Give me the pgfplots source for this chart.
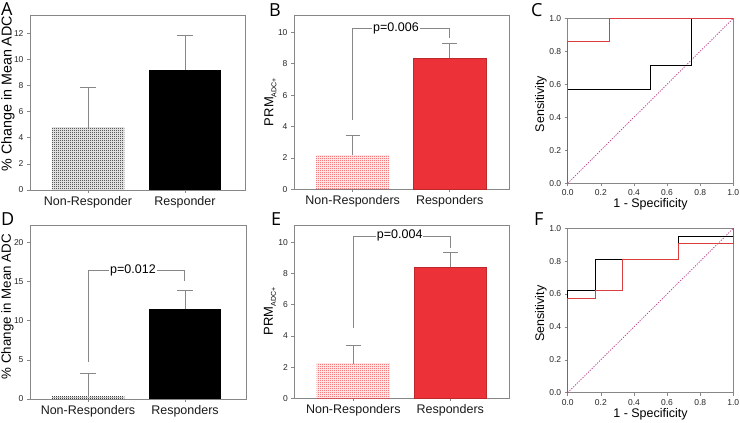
\documentclass[border=0pt]{standalone}
\usepackage{fontspec}
\setmainfont{Liberation Sans}
\newfontfamily\letterfont{Open Sans}
\usepackage{pgfplots}
\pgfplotsset{compat=1.18}
\usetikzlibrary{patterns}
\definecolor{axgray}{RGB}{135,135,135}
\definecolor{bred}{RGB}{236,50,56}
\definecolor{rocred}{RGB}{218,62,62}
\definecolor{diag}{RGB}{185,60,140}
\pgfdeclarepatternformonly{finecheck}{\pgfpointorigin}{\pgfpoint{2pt}{2pt}}{\pgfpoint{2pt}{2pt}}{%
  \pgfpathrectangle{\pgfpointorigin}{\pgfpoint{1pt}{1pt}}%
  \pgfpathrectangle{\pgfpoint{1pt}{1pt}}{\pgfpoint{1pt}{1pt}}%
  \pgfusepath{fill}}
\pgfplotsset{
  base/.style={scale only axis, anchor=north west,
    axis line style={axgray, line width=0.7pt},
    tick style={axgray, line width=0.6pt}, major tick length=3pt,
    tick align=outside, xtick pos=bottom, ytick pos=left,
    /pgf/number format/assume math mode=true,
    yticklabel style={font=\fontsize{8.5}{10}\selectfont, text=black!85},
    ylabel style={font=\fontsize{13}{15}\selectfont, anchor=base},
    xlabel style={font=\fontsize{12.5}{14}\selectfont, anchor=base},
  },
  barpanel/.style={base, ymin=0,
    xticklabel style={font=\fontsize{12.5}{14}\selectfont, text=black!90},
  },
  rocpanel/.style={base, xmin=0, xmax=1, ymin=0, ymax=1, clip=false,
    xtick={0,0.2,...,1.0}, ytick={0,0.2,...,1.0},
    xticklabel style={font=\fontsize{8.5}{10}\selectfont, text=black!85,
      /pgf/number format/.cd, fixed, fixed zerofill, precision=1},
    yticklabel style={/pgf/number format/.cd, fixed, fixed zerofill, precision=1},
    xlabel={1 - Specificity}, ylabel={Sensitivity},
    xlabel style={at={(axis description cs:0.5,-0.149)}},
    ylabel style={at={(axis description cs:-0.143,0.48)}, font=\fontsize{12.5}{14}\selectfont},
  },
  ebar/.style={axgray, line width=0.8pt, forget plot},
  bracket/.style={axgray, line width=0.8pt, forget plot},
}
\begin{document}
\begin{tikzpicture}
\useasboundingbox (0,0) rectangle (740pt,423pt);
% ---------- A ----------
\begin{axis}[barpanel, at={(30pt,408pt)}, width=215pt, height=175pt,
  xmin=30, xmax=245, ymax=13.4, ytick={0,2,...,12},
  xtick={88,185}, xticklabels={Non-Responder,Responder},
  ylabel={\% Change in Mean ADC},
  ylabel style={at={(axis description cs:-0.086,0.55)}, font=\fontsize{14.3}{16}\selectfont}]
\addplot[ybar, bar shift=0pt, bar width=72.5, draw=none, pattern=finecheck, pattern color=black] coordinates {(88,4.77)};
\addplot[ybar, bar shift=0pt, bar width=72.5, draw=none, fill=black] coordinates {(185,9.19)};
% error bars (mean to mean+SE) and caps
\addplot[ebar] coordinates {(88,4.77) (88,7.86)};
\addplot[ebar] coordinates {(80.2,7.86) (95.8,7.86)};
\addplot[ebar] coordinates {(185,9.19) (185,11.84)};
\addplot[ebar] coordinates {(177.2,11.84) (192.8,11.84)};
\end{axis}
% ---------- B ----------
\begin{axis}[barpanel, at={(294pt,408pt)}, width=215pt, height=174.3pt,
  xmin=294, xmax=509, ymax=11.1, ytick={0,2,...,10},
  xtick={352.7,449.7}, xticklabels={Non-Responders,Responders},
  ylabel={PRM\raisebox{-0.45ex}{\fontsize{7}{8}\selectfont ADC+}},
  ylabel style={at={(axis description cs:-0.096,0.5)}}]
\addplot[ybar, bar shift=0pt, bar width=73.3, draw=none, pattern=finecheck, pattern color=bred] coordinates {(352.7,2.18)};
\addplot[ybar, bar shift=0pt, bar width=72.7, draw=bred!80!black, line width=0.4pt, fill=bred] coordinates {(449.7,8.34)};
\addplot[ebar] coordinates {(352.7,2.18) (352.7,3.42)};
\addplot[ebar] coordinates {(345.7,3.42) (359.7,3.42)};
\addplot[ebar] coordinates {(449.7,8.34) (449.7,9.30)};
\addplot[ebar] coordinates {(442.2,9.30) (457.2,9.30)};
\addplot[bracket] coordinates {(352.7,4.41) (352.7,10.25) (449.7,10.25) (449.7,9.62)};
\node[fill=white, inner sep=1pt, font=\fontsize{12.5}{14}\selectfont] at (axis cs:396,10.25) {p=0.006};
\end{axis}
% ---------- C ----------
\begin{axis}[rocpanel, at={(567.7pt,404.7pt)}, width=165.6pt, height=165pt]
\addplot[diag, line width=0.7pt, dash pattern=on 1.3pt off 1.3pt] coordinates {(0,0) (1,1)};
\addplot[black, line width=0.9pt] coordinates {(0,0) (0,0.571) (0.5,0.571) (0.5,0.714) (0.75,0.714) (0.75,1) (1,1)};
\addplot[rocred, line width=0.9pt] coordinates {(0,0) (0,0.857) (0.25,0.857) (0.25,1) (1,1)};
\end{axis}
% ---------- D ----------
\begin{axis}[barpanel, at={(30pt,198pt)}, width=216pt, height=174pt,
  xmin=30, xmax=246, ymax=22.2, ytick={0,5,...,20},
  xtick={88,185}, xticklabels={Non-Responders,Responders},
  ylabel={\% Change in Mean ADC},
  ylabel style={at={(axis description cs:-0.088,0.53)}, font=\fontsize{13.3}{15}\selectfont}]
\addplot[ybar, bar shift=0pt, bar width=72.5, draw=none, pattern=finecheck, pattern color=black] coordinates {(88,0.3)};
\addplot[ybar, bar shift=0pt, bar width=72.5, draw=none, fill=black] coordinates {(185,11.45)};
\addplot[ebar] coordinates {(88,0.3) (88,3.28)};
\addplot[ebar] coordinates {(80.2,3.28) (95.8,3.28)};
\addplot[ebar] coordinates {(185,11.45) (185,13.9)};
\addplot[ebar] coordinates {(177,13.9) (193,13.9)};
\addplot[bracket] coordinates {(88,4.76) (88,16.35) (184.3,16.35) (184.3,15.1)};
\node[fill=white, inner sep=1pt, font=\fontsize{12.5}{14}\selectfont] at (axis cs:133,16.35) {p=0.012};
\end{axis}
% ---------- E ----------
\begin{axis}[barpanel, at={(294.3pt,198pt)}, width=214.7pt, height=173.3pt,
  xmin=294.3, xmax=509, ymax=11.1, ytick={0,2,...,10},
  xtick={353.3,450.3}, xticklabels={Non-Responders,Responders},
  ylabel={PRM\raisebox{-0.45ex}{\fontsize{7}{8}\selectfont ADC+}},
  ylabel style={at={(axis description cs:-0.1,0.5)}}]
\addplot[ybar, bar shift=0pt, bar width=73.3, draw=none, pattern=finecheck, pattern color=bred] coordinates {(353.3,2.2)};
\addplot[ybar, bar shift=0pt, bar width=72.7, draw=bred!80!black, line width=0.4pt, fill=bred] coordinates {(450.3,8.4)};
\addplot[ebar] coordinates {(353.3,2.2) (353.3,3.42)};
\addplot[ebar] coordinates {(345.8,3.42) (360.8,3.42)};
\addplot[ebar] coordinates {(450.3,8.4) (450.3,9.33)};
\addplot[ebar] coordinates {(442.8,9.33) (457.8,9.33)};
\addplot[bracket] coordinates {(353.3,4.49) (353.3,10.4) (450.3,10.4) (450.3,9.6)};
\node[fill=white, inner sep=1pt, font=\fontsize{12.5}{14}\selectfont] at (axis cs:399.7,10.4) {p=0.004};
\end{axis}
% ---------- F ----------
\begin{axis}[rocpanel, at={(567.7pt,194.7pt)}, width=165.6pt, height=164.4pt]
\addplot[diag, line width=0.7pt, dash pattern=on 1.3pt off 1.3pt] coordinates {(0,0) (1,1)};
\addplot[black, line width=0.9pt] coordinates {(0,0) (0,0.619) (0.167,0.619) (0.167,0.810) (0.667,0.810) (0.667,0.952) (1,0.952) (1,1)};
\addplot[rocred, line width=0.9pt] coordinates {(0,0) (0,0.571) (0.167,0.571) (0.167,0.619) (0.333,0.619) (0.333,0.810) (0.667,0.810) (0.667,0.905) (1,0.905) (1,1)};
\end{axis}
% ---------- panel letters ----------
\begin{scope}[every node/.style={anchor=north west, inner sep=0pt, font=\letterfont\fontsize{18}{20}\selectfont}]
\node at (1pt,421pt) {A};
\node at (269pt,420pt) {B};
\node at (531pt,420pt) {C};
\node at (1pt,211pt) {D};
\node at (271pt,211pt) {E};
\node at (534pt,211pt) {F};
\end{scope}
\end{tikzpicture}
\end{document}
